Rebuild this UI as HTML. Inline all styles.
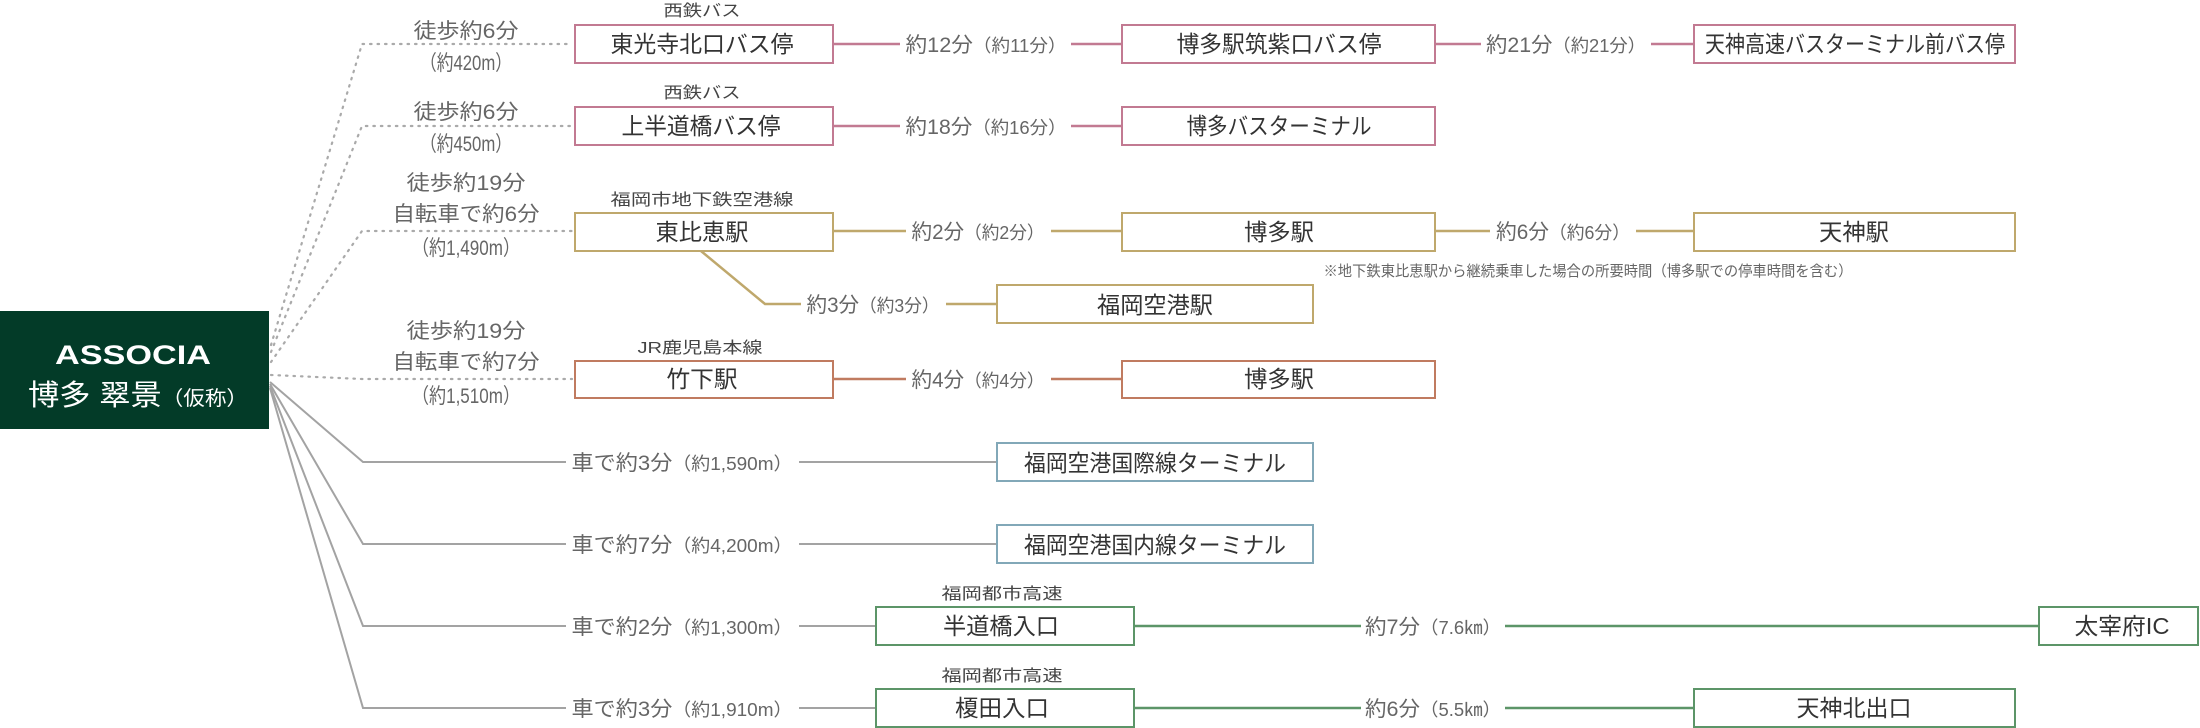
<!DOCTYPE html>
<html><head><meta charset="utf-8"><style>
html,body{margin:0;padding:0;background:#fff;}
svg{display:block;}
text{font-family:"Liberation Sans","Noto Sans CJK JP",sans-serif;}
.bx{font-size:23px;fill:#333;text-anchor:middle;}
.sm{font-size:16px;fill:#444;text-anchor:middle;}
.lb{font-size:21px;fill:#666;text-anchor:middle;}
.wk{font-size:21px;fill:#666;text-anchor:middle;}
</style></head><body>
<svg width="2200" height="728" viewBox="0 0 2200 728" xmlns="http://www.w3.org/2000/svg">
<rect x="0" y="311" width="269" height="118" fill="#033b28"/>
<text x="133" y="364" font-size="27" font-weight="bold" fill="#fff" text-anchor="middle" textLength="156" lengthAdjust="spacingAndGlyphs">ASSOCIA</text>
<text x="28" y="405" font-size="29" fill="#fff" textLength="220" lengthAdjust="spacingAndGlyphs">博多 翠景<tspan font-size="20">（仮称）</tspan></text>

<g stroke="#aaa" stroke-width="2.2" stroke-dasharray="1.5 6" fill="none" stroke-linecap="round">
<polyline points="271,345 362,44 572,44"/>
<polyline points="271,352 362,126 572,126"/>
<polyline points="271,362 362,231 572,231"/>
<polyline points="271,375 362,379 572,379"/>
</g>
<g stroke="#a3a3a3" stroke-width="2" fill="none">
<polyline points="270,382 363,462 566,462"/><line x1="799" y1="462" x2="996" y2="462"/>
<polyline points="270,384 363,544 566,544"/><line x1="799" y1="544" x2="996" y2="544"/>
<polyline points="270,386 363,626 566,626"/><line x1="799" y1="626" x2="875" y2="626"/>
<polyline points="270,388 363,708 566,708"/><line x1="799" y1="708" x2="875" y2="708"/>
</g>

<text class="wk" x="466" y="38" textLength="105" lengthAdjust="spacingAndGlyphs">徒歩約6分</text>
<text class="lb" x="466" y="70" font-size="19" textLength="92" lengthAdjust="spacingAndGlyphs">（約420m）</text>
<text class="wk" x="466" y="119" textLength="105" lengthAdjust="spacingAndGlyphs">徒歩約6分</text>
<text class="lb" x="466" y="151" font-size="19" textLength="92" lengthAdjust="spacingAndGlyphs">（約450m）</text>
<text class="wk" x="466" y="190" textLength="119" lengthAdjust="spacingAndGlyphs">徒歩約19分</text>
<text class="wk" x="466" y="221" textLength="147" lengthAdjust="spacingAndGlyphs">自転車で約6分</text>
<text class="lb" x="466" y="255" font-size="19" textLength="108" lengthAdjust="spacingAndGlyphs">（約1,490m）</text>
<text class="wk" x="466" y="338" textLength="119" lengthAdjust="spacingAndGlyphs">徒歩約19分</text>
<text class="wk" x="466" y="369" textLength="147" lengthAdjust="spacingAndGlyphs">自転車で約7分</text>
<text class="lb" x="466" y="403" font-size="19" textLength="108" lengthAdjust="spacingAndGlyphs">（約1,510m）</text>

<g stroke="#c27a92" stroke-width="2.5">
<line x1="833" y1="44" x2="900" y2="44"/><line x1="1071" y1="44" x2="1121" y2="44"/>
<line x1="1435" y1="44" x2="1481" y2="44"/><line x1="1651" y1="44" x2="1693" y2="44"/>
<line x1="833" y1="126" x2="900" y2="126"/><line x1="1071" y1="126" x2="1121" y2="126"/>
</g>
<g fill="#fff" stroke="#c27a92" stroke-width="2">
<rect x="575" y="25" width="258" height="38"/><rect x="1122" y="25" width="313" height="38"/><rect x="1694" y="25" width="321" height="38"/>
<rect x="575" y="107" width="258" height="38"/><rect x="1122" y="107" width="313" height="38"/>
</g>
<text class="sm" x="702" y="16" textLength="77" lengthAdjust="spacingAndGlyphs">西鉄バス</text>
<text class="bx" x="702" y="52" textLength="183" lengthAdjust="spacingAndGlyphs">東光寺北口バス停</text>
<text class="lb" x="986" y="52" textLength="161" lengthAdjust="spacingAndGlyphs">約12分<tspan font-size="18">（約11分）</tspan></text>
<text class="bx" x="1279" y="52" textLength="205" lengthAdjust="spacingAndGlyphs">博多駅筑紫口バス停</text>
<text class="lb" x="1566" y="52" textLength="160" lengthAdjust="spacingAndGlyphs">約21分<tspan font-size="18">（約21分）</tspan></text>
<text class="bx" x="1855" y="52" textLength="300" lengthAdjust="spacingAndGlyphs">天神高速バスターミナル前バス停</text>
<text class="sm" x="702" y="98" textLength="77" lengthAdjust="spacingAndGlyphs">西鉄バス</text>
<text class="bx" x="701" y="134" textLength="159" lengthAdjust="spacingAndGlyphs">上半道橋バス停</text>
<text class="lb" x="986" y="134" textLength="161" lengthAdjust="spacingAndGlyphs">約18分<tspan font-size="18">（約16分）</tspan></text>
<text class="bx" x="1279" y="134" textLength="185" lengthAdjust="spacingAndGlyphs">博多バスターミナル</text>

<g stroke="#bfa86c" stroke-width="2.5" fill="none">
<line x1="833" y1="231" x2="906" y2="231"/><line x1="1051" y1="231" x2="1121" y2="231"/>
<line x1="1435" y1="231" x2="1490" y2="231"/><line x1="1636" y1="231" x2="1693" y2="231"/>
<polyline points="701,251 765,304 801,304"/><line x1="946" y1="304" x2="996" y2="304"/>
</g>
<g fill="#fff" stroke="#bfa86c" stroke-width="2">
<rect x="575" y="213" width="258" height="38"/><rect x="1122" y="213" width="313" height="38"/><rect x="1694" y="213" width="321" height="38"/>
<rect x="997" y="285" width="316" height="38"/>
</g>
<text class="sm" x="702" y="205" textLength="183" lengthAdjust="spacingAndGlyphs">福岡市地下鉄空港線</text>
<text class="bx" x="702" y="240" textLength="93" lengthAdjust="spacingAndGlyphs">東比恵駅</text>
<text class="lb" x="978" y="239" textLength="133" lengthAdjust="spacingAndGlyphs">約2分<tspan font-size="18">（約2分）</tspan></text>
<text class="bx" x="1279" y="240" textLength="70" lengthAdjust="spacingAndGlyphs">博多駅</text>
<text class="lb" x="1563" y="239" textLength="134" lengthAdjust="spacingAndGlyphs">約6分<tspan font-size="18">（約6分）</tspan></text>
<text class="bx" x="1854" y="240" textLength="70" lengthAdjust="spacingAndGlyphs">天神駅</text>
<text x="1588" y="276" font-size="15" fill="#666" text-anchor="middle" textLength="529" lengthAdjust="spacingAndGlyphs">※地下鉄東比恵駅から継続乗車した場合の所要時間（博多駅での停車時間を含む）</text>
<text class="lb" x="873" y="312" textLength="133" lengthAdjust="spacingAndGlyphs">約3分<tspan font-size="18">（約3分）</tspan></text>
<text class="bx" x="1155" y="313" textLength="116" lengthAdjust="spacingAndGlyphs">福岡空港駅</text>

<g stroke="#c07b60" stroke-width="2.5">
<line x1="833" y1="379" x2="906" y2="379"/><line x1="1051" y1="379" x2="1121" y2="379"/>
</g>
<g fill="#fff" stroke="#c07b60" stroke-width="2">
<rect x="575" y="361" width="258" height="37"/><rect x="1122" y="361" width="313" height="37"/>
</g>
<text class="sm" x="700" y="353" textLength="125" lengthAdjust="spacingAndGlyphs">JR鹿児島本線</text>
<text class="bx" x="702" y="387" textLength="71" lengthAdjust="spacingAndGlyphs">竹下駅</text>
<text class="lb" x="978" y="387" textLength="133" lengthAdjust="spacingAndGlyphs">約4分<tspan font-size="18">（約4分）</tspan></text>
<text class="bx" x="1279" y="387" textLength="70" lengthAdjust="spacingAndGlyphs">博多駅</text>

<g fill="#fff" stroke="#82a8b8" stroke-width="2">
<rect x="997" y="443" width="316" height="38"/><rect x="997" y="525" width="316" height="38"/>
</g>
<text class="lb" x="682" y="470" textLength="221" lengthAdjust="spacingAndGlyphs">車で約3分<tspan font-size="18">（約1,590m）</tspan></text>
<text class="bx" x="1155" y="471" textLength="262" lengthAdjust="spacingAndGlyphs">福岡空港国際線ターミナル</text>
<text class="lb" x="682" y="552" textLength="221" lengthAdjust="spacingAndGlyphs">車で約7分<tspan font-size="18">（約4,200m）</tspan></text>
<text class="bx" x="1155" y="553" textLength="262" lengthAdjust="spacingAndGlyphs">福岡空港国内線ターミナル</text>

<g stroke="#5c9568" stroke-width="2.5">
<line x1="1134" y1="626" x2="1361" y2="626"/><line x1="1505" y1="626" x2="2038" y2="626"/>
<line x1="1134" y1="708" x2="1361" y2="708"/><line x1="1505" y1="708" x2="1693" y2="708"/>
</g>
<g fill="#fff" stroke="#5c9568" stroke-width="2">
<rect x="876" y="607" width="258" height="38"/><rect x="2039" y="607" width="159" height="38"/>
<rect x="876" y="689" width="258" height="38"/><rect x="1694" y="689" width="321" height="38"/>
</g>
<text class="lb" x="682" y="634" textLength="221" lengthAdjust="spacingAndGlyphs">車で約2分<tspan font-size="18">（約1,300m）</tspan></text>
<text class="sm" x="1002" y="599" textLength="121" lengthAdjust="spacingAndGlyphs">福岡都市高速</text>
<text class="bx" x="1001" y="634" textLength="116" lengthAdjust="spacingAndGlyphs">半道橋入口</text>
<text class="lb" x="1433" y="634" textLength="136" lengthAdjust="spacingAndGlyphs">約7分<tspan font-size="18">（7.6㎞）</tspan></text>
<text class="bx" x="2122" y="634" textLength="95" lengthAdjust="spacingAndGlyphs">太宰府IC</text>
<text class="lb" x="682" y="716" textLength="221" lengthAdjust="spacingAndGlyphs">車で約3分<tspan font-size="18">（約1,910m）</tspan></text>
<text class="sm" x="1002" y="681" textLength="121" lengthAdjust="spacingAndGlyphs">福岡都市高速</text>
<text class="bx" x="1002" y="716" textLength="94" lengthAdjust="spacingAndGlyphs">榎田入口</text>
<text class="lb" x="1433" y="716" textLength="136" lengthAdjust="spacingAndGlyphs">約6分<tspan font-size="18">（5.5㎞）</tspan></text>
<text class="bx" x="1854" y="716" textLength="115" lengthAdjust="spacingAndGlyphs">天神北出口</text>
</svg>
</body></html>
